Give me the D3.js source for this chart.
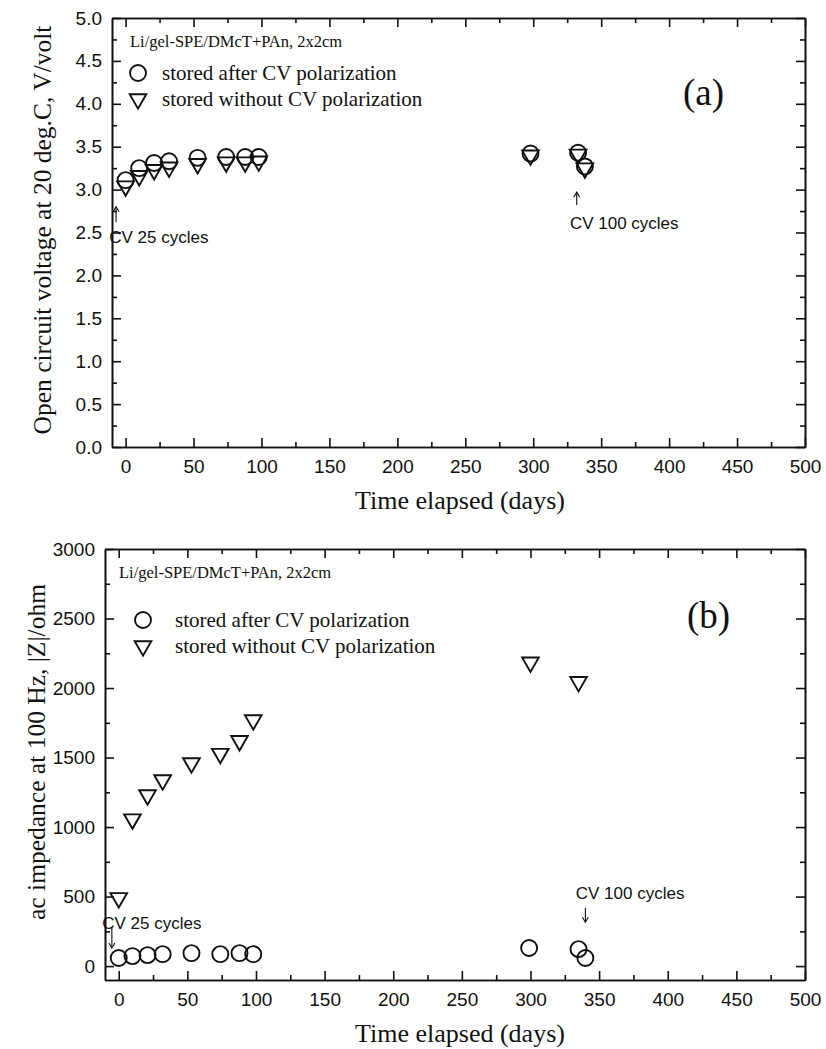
<!DOCTYPE html>
<html>
<head>
<meta charset="utf-8">
<script src="https://cdn.jsdelivr.net/npm/d3@7"></script>
<style>
  body { margin: 0; background: #fff; }
  svg { display: block; }
  .tick text { font-family: "Liberation Sans", Arial, sans-serif; font-size: 19px; fill: #111; }
  .axis path, .axis line { stroke: #111; stroke-width: 1.6; }
  .serif { font-family: "Liberation Serif", "Times New Roman", serif; fill: #111; }
  .note { font-family: "Liberation Sans", Arial, sans-serif; font-size: 17px; fill: #111; }
</style>
</head>
<body>
<script>
// days elapsed
const ocvDays = [0, 10, 21, 32, 53, 74, 88, 98, 298, 333, 338];
// open circuit voltage, V
const ocvAfterCV = [3.11, 3.25, 3.31, 3.33, 3.37, 3.38, 3.38, 3.38, 3.42, 3.43, 3.27];
const ocvWithoutCV = [3.04, 3.16, 3.23, 3.26, 3.30, 3.32, 3.32, 3.33, 3.40, 3.41, 3.25];

// ac impedance at 100 Hz, ohm
const zDaysAfter = [0, 10, 21, 32, 53, 74, 88, 98, 299, 335, 340];
const zAfterCV = [58, 72, 79, 86, 93, 86, 93, 86, 130, 122, 58];
const zDaysWithout = [0, 10, 21, 32, 53, 74, 88, 98, 300, 335];
const zWithoutCV = [490, 1057, 1230, 1338, 1460, 1528, 1620, 1770, 2185, 2045];

const dayTicks = [0, 50, 100, 150, 200, 250, 300, 350, 400, 450, 500];
const dayMinor = [25, 75, 125, 175, 225, 275, 325, 375, 425, 475];
const ocvTicks = [0, 0.5, 1.0, 1.5, 2.0, 2.5, 3.0, 3.5, 4.0, 4.5, 5.0];
const ocvMinor = [0.25, 0.75, 1.25, 1.75, 2.25, 2.75, 3.25, 3.75, 4.25, 4.75];
const zTicks = [0, 500, 1000, 1500, 2000, 2500, 3000];
const zMinor = [250, 750, 1250, 1750, 2250, 2750];

const cellLabel = "Li/gel-SPE/DMcT+PAn, 2x2cm";
const seriesNames = ["stored after CV polarization", "stored without CV polarization"];

// annotations in data units: text anchor + arrow from/to
const ocvNotes = [
  { text: "CV 25 cycles", tx: -12, ty: 2.38, ax: -7, a0: 2.62, a1: 2.80 },
  { text: "CV 100 cycles", tx: 327, ty: 2.54, ax: 332, a0: 2.82, a1: 2.97 }
];
const zNotes = [
  { text: "CV 25 cycles", tx: -12, ty: 270, ax: -5, a0: 280, a1: 130 },
  { text: "CV 100 cycles", tx: 333, ty: 480, ax: 340, a0: 420, a1: 315 }
];

const W = 826, H = 1049;
const svg = d3.select("body").append("svg").attr("width", W).attr("height", H);

const tri = d3.symbol().type(d3.symbolTriangle).size(120);

function drawPanel(p) {
  const x = d3.scaleLinear().domain([-10, 500]).range([p.left, 805]);
  const y = d3.scaleLinear().domain(p.yDomain).range([p.bottom, p.top]);
  const g = svg.append("g");

  // frame + inward ticks
  g.append("g").attr("class", "axis").attr("transform", `translate(0,${p.bottom})`)
    .call(d3.axisBottom(x).tickValues(dayTicks).tickSize(-9).tickSizeOuter(0).tickPadding(13).tickFormat(d3.format("d")));
  g.append("g").attr("class", "axis").attr("transform", `translate(0,${p.bottom})`)
    .call(d3.axisBottom(x).tickValues(dayMinor).tickSize(-5).tickSizeOuter(0).tickFormat(""));
  g.append("g").attr("class", "axis").attr("transform", `translate(0,${p.top})`)
    .call(d3.axisTop(x).tickValues(dayTicks).tickSize(-9).tickSizeOuter(0).tickFormat(""));
  g.append("g").attr("class", "axis").attr("transform", `translate(0,${p.top})`)
    .call(d3.axisTop(x).tickValues(dayMinor).tickSize(-5).tickSizeOuter(0).tickFormat(""));

  g.append("g").attr("class", "axis").attr("transform", `translate(${p.left},0)`)
    .call(d3.axisLeft(y).tickValues(p.yTicks).tickSize(-9).tickSizeOuter(0).tickPadding(10).tickFormat(p.fmt));
  g.append("g").attr("class", "axis").attr("transform", `translate(${p.left},0)`)
    .call(d3.axisLeft(y).tickValues(p.yMinor).tickSize(-5).tickSizeOuter(0).tickFormat(""));
  g.append("g").attr("class", "axis").attr("transform", `translate(805,0)`)
    .call(d3.axisRight(y).tickValues(p.yTicks).tickSize(-9).tickSizeOuter(0).tickFormat(""));
  g.append("g").attr("class", "axis").attr("transform", `translate(805,0)`)
    .call(d3.axisRight(y).tickValues(p.yMinor).tickSize(-5).tickSizeOuter(0).tickFormat(""));
  g.selectAll(".axis .domain").attr("stroke-width", 1.9);

  // axis titles
  g.append("text").attr("class", "serif")
    .attr("x", 460).attr("y", p.xTitleY)
    .attr("text-anchor", "middle").attr("font-size", 26)
    .text("Time elapsed (days)");
  g.append("text").attr("class", "serif")
    .attr("transform", `translate(${p.yTitleX},${p.yTitleMid}) rotate(-90)`)
    .attr("text-anchor", "middle").attr("font-size", 25.5)
    .text(p.yTitle);

  // cell label, legend, panel letter
  g.append("text").attr("class", "serif")
    .attr("x", p.labelX).attr("y", p.top + 29).attr("font-size", 16.5)
    .text(cellLabel);
  g.append("circle").attr("cx", p.legX).attr("cy", p.legY)
    .attr("r", 8).attr("fill", "none").attr("stroke", "#111").attr("stroke-width", 1.9);
  g.append("path").attr("d", tri)
    .attr("transform", `translate(${p.legX},${p.legY + 26}) rotate(180)`)
    .attr("fill", "none").attr("stroke", "#111").attr("stroke-width", 1.9);
  seriesNames.forEach((s, i) => {
    g.append("text").attr("class", "serif")
      .attr("x", p.legTextX).attr("y", p.legY + 7 + i * 26).attr("font-size", 21)
      .text(s);
  });
  g.append("text").attr("class", "serif")
    .attr("x", p.letterX).attr("y", p.letterY).attr("font-size", 37)
    .text(p.letter);

  // data
  g.append("g").selectAll("circle")
    .data(p.afterDays.map((d, i) => ({ d, v: p.after[i] })))
    .join("circle")
    .attr("cx", o => x(o.d)).attr("cy", o => y(o.v)).attr("r", 8)
    .attr("fill", "none").attr("stroke", "#111").attr("stroke-width", 1.9);
  g.append("g").selectAll("path")
    .data(p.withoutDays.map((d, i) => ({ d, v: p.without[i] })))
    .join("path")
    .attr("d", tri)
    .attr("transform", o => `translate(${x(o.d)},${y(o.v)}) rotate(180)`)
    .attr("fill", "none").attr("stroke", "#111").attr("stroke-width", 1.9);

  // notes
  p.notes.forEach(n => {
    g.append("text").attr("class", "note").attr("x", x(n.tx)).attr("y", y(n.ty)).text(n.text);
    const ya = y(n.a0), yb = y(n.a1), dir = yb < ya ? 1 : -1;
    g.append("line").attr("x1", x(n.ax)).attr("x2", x(n.ax)).attr("y1", ya).attr("y2", yb)
      .attr("stroke", "#111").attr("stroke-width", 1.1);
    g.append("path")
      .attr("d", `M${x(n.ax) - 3},${yb + dir * 5}L${x(n.ax)},${yb}L${x(n.ax) + 3},${yb + dir * 5}`)
      .attr("fill", "none").attr("stroke", "#111").attr("stroke-width", 1.1);
  });
}

drawPanel({
  left: 112, top: 18, bottom: 447,
  yDomain: [0, 5], yTicks: ocvTicks, yMinor: ocvMinor, fmt: d3.format(".1f"),
  yTitle: "Open circuit voltage at 20 deg.C, V/volt", yTitleX: 51, yTitleMid: 230,
  xTitleY: 509,
  labelX: 130, legX: 138, legY: 73, legTextX: 162,
  letter: "(a)", letterX: 683, letterY: 105,
  afterDays: ocvDays, after: ocvAfterCV, withoutDays: ocvDays, without: ocvWithoutCV,
  notes: ocvNotes
});

drawPanel({
  left: 105, top: 549, bottom: 980,
  yDomain: [-100, 3000], yTicks: zTicks, yMinor: zMinor, fmt: d3.format("d"),
  yTitle: "ac impedance at 100 Hz, |Z|/ohm", yTitleX: 45, yTitleMid: 752,
  xTitleY: 1042,
  labelX: 119, legX: 143, legY: 620, legTextX: 175,
  letter: "(b)", letterX: 687, letterY: 628,
  afterDays: zDaysAfter, after: zAfterCV, withoutDays: zDaysWithout, without: zWithoutCV,
  notes: zNotes
});
</script>
</body>
</html>
